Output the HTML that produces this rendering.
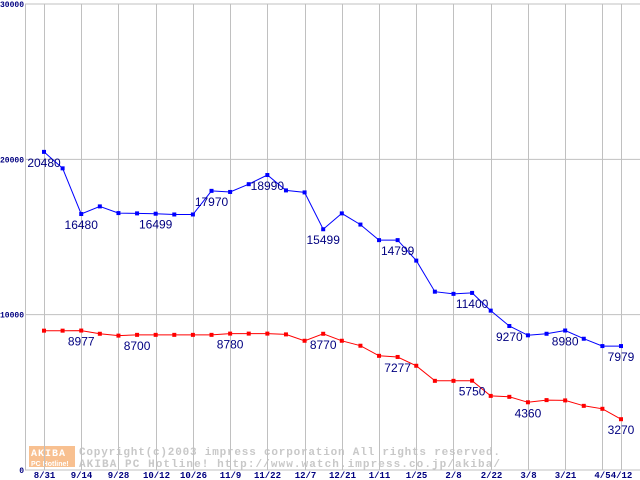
<!DOCTYPE html>
<html><head><meta charset="utf-8"><style>
body{margin:0;background:#fff;width:640px;height:480px;overflow:hidden}
svg{display:block}
</style></head><body>
<svg id="chart" width="640" height="480" xmlns="http://www.w3.org/2000/svg">
<g>
<rect x="29" y="446" width="46" height="21" fill="#f8c090"/>
<text x="31" y="456" font-family="Liberation Mono, monospace" font-size="10" font-weight="bold" fill="#fff" letter-spacing="1">AKIBA</text>
<text x="31" y="466" font-family="Liberation Sans, sans-serif" font-size="7" font-weight="bold" fill="#fff">PC Hotline!</text>
<text x="79" y="455" font-family="Liberation Mono, monospace" font-size="11" font-weight="bold" fill="#c8c8c8" textLength="421" lengthAdjust="spacing">Copyright(c)2003 impress corporation All rights reserved.</text>
<text x="79" y="467" font-family="Liberation Mono, monospace" font-size="11" font-weight="bold" fill="#c8c8c8" textLength="421" lengthAdjust="spacing">AKIBA PC Hotline!  http://www.watch.impress.co.jp/akiba/</text>
</g>
<g id="grid"></g><g id="series"></g><g id="labels"></g>
</svg>
<script>
const xTickLabels=["8/31","9/14","9/28","10/12","10/26","11/9","11/22","12/7","12/21","1/11","1/25","2/8","2/22","3/8","3/21","4/5","4/12"];
const xTickIndex=[0,2,4,6,8,10,12,14,16,18,20,22,24,26,28,30,31];
const yTicks=[0,10000,20000,30000];
const blueValues=[20480,19420,16480,16970,16540,16520,16499,16450,16450,17970,17900,18400,18990,18000,17870,15499,16520,15800,14799,14799,13480,11480,11340,11400,10260,9270,8670,8770,8980,8450,7979,7979];
const redValues=[8970,8970,8977,8770,8650,8700,8700,8700,8700,8700,8780,8780,8780,8730,8320,8770,8320,8000,7350,7277,6710,5740,5740,5750,4770,4710,4360,4500,4480,4130,3940,3270];
const blueLabelIdx=[0,2,6,9,12,15,19,23,25,28,31];
const redLabelIdx=[2,5,10,15,19,23,26,31];
const NS="http://www.w3.org/2000/svg";
const X0=44,X1=621,N=blueValues.length;
function xs(i){return X0+(X1-X0)*i/(N-1);}
function ys(v){return 470-v*466/30000;}
function mk(tag,attrs,parent){const e=document.createElementNS(NS,tag);for(const k in attrs)e.setAttribute(k,attrs[k]);parent.appendChild(e);return e;}
const grid=document.getElementById('grid'),ser=document.getElementById('series'),lab=document.getElementById('labels');
yTicks.forEach(v=>{
 const y=ys(v);
 const l=mk('line',{x1:25,x2:640,y1:y,y2:y,stroke:'#c0c0c0','stroke-width':1},grid);
 
 
 const t=mk('text',{x:24,y:y+3,'text-anchor':'end','font-family':'Liberation Mono, monospace','font-size':'8','font-weight':'bold',fill:'#000080'},grid);
 t.textContent=v;
 if(v>0){t.setAttribute('textLength',String(String(v).length*4.8));t.setAttribute('lengthAdjust','spacingAndGlyphs');}
 
 
});
mk('line',{x1:25.5,x2:25.5,y1:4,y2:470,stroke:'#c0c0c0'},grid);
xTickIndex.forEach((idx,k)=>{
 const x=Math.round(xs(idx))+0.5;
 const l=mk('line',{x1:x,x2:x,y1:4,y2:470,stroke:'#c0c0c0','stroke-width':1},grid);
 
 
 const t=mk('text',{x:x,y:478,'text-anchor':'middle','font-family':'Liberation Mono, monospace','font-size':'9','font-weight':'bold',fill:'#000080'},grid);
 t.textContent=xTickLabels[k];
 
 
});
function drawSeries(vals,color,name,labelIdx){
 const pts=vals.map((v,i)=>xs(i).toFixed(1)+','+ys(v).toFixed(1)).join(' ');
 const pl=mk('polyline',{points:pts,fill:'none',stroke:color,'stroke-width':1},ser);
 
 
 vals.forEach((v,i)=>{
  const r=mk('rect',{x:xs(i)-2,y:ys(v)-2,width:4,height:4,fill:color},ser);
  
  
 });
 labelIdx.forEach(i=>{
  const t=mk('text',{x:xs(i),y:ys(vals[i])+15,'text-anchor':'middle','font-family':'Liberation Sans, sans-serif','font-size':'12',fill:'#000080'},lab);
  t.textContent=vals[i];
  
  
 });
}
drawSeries(blueValues,'#0000ff','blue-series',blueLabelIdx);
drawSeries(redValues,'#ff0000','red-series',redLabelIdx);
</script>
</body></html>
